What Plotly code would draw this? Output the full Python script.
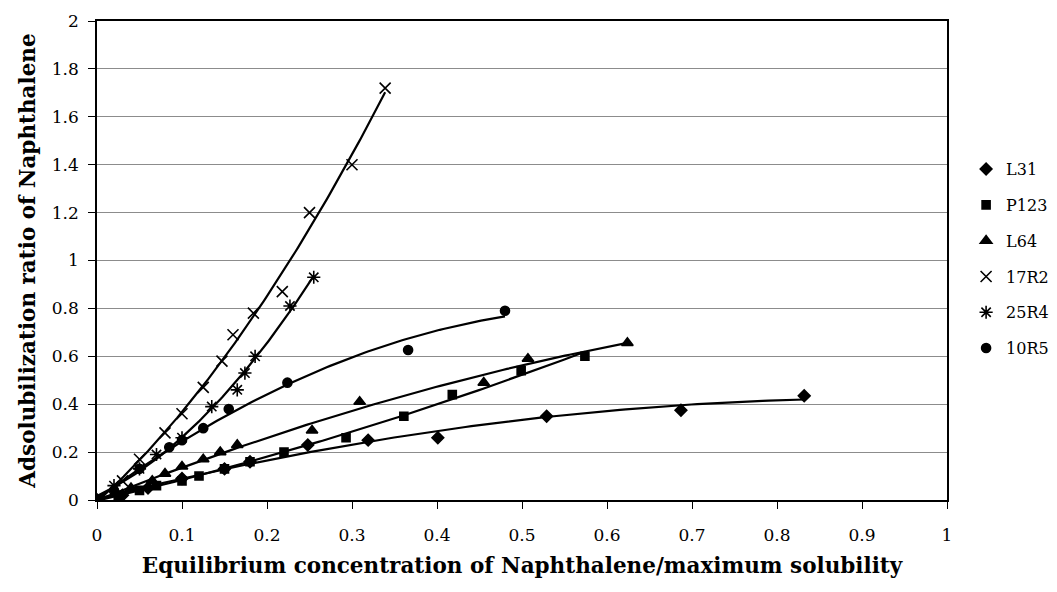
import numpy as np
import plotly.graph_objects as go

# ---- data ----
series_names = ["L31", "P123", "L64", "17R2", "25R4", "10R5"]

x_L31 = [0, 0.03, 0.06, 0.10, 0.15, 0.18, 0.248, 0.319, 0.401, 0.529, 0.687, 0.832]
y_L31 = [0, 0.02, 0.05, 0.09, 0.13, 0.16, 0.23, 0.25, 0.26, 0.35, 0.375, 0.435]

x_P123 = [0, 0.025, 0.05, 0.07, 0.10, 0.12, 0.15, 0.18, 0.22, 0.293, 0.361, 0.418, 0.499, 0.574]
y_P123 = [0, 0.02, 0.04, 0.06, 0.08, 0.10, 0.13, 0.16, 0.20, 0.26, 0.35, 0.44, 0.54, 0.60]

x_L64 = [0, 0.04, 0.065, 0.08, 0.10, 0.125, 0.145, 0.165, 0.253, 0.309, 0.455, 0.507, 0.624]
y_L64 = [0, 0.05, 0.08, 0.11, 0.14, 0.17, 0.20, 0.23, 0.29, 0.41, 0.49, 0.59, 0.656]

x_17R2 = [0, 0.03, 0.05, 0.08, 0.10, 0.125, 0.147, 0.16, 0.184, 0.218, 0.25, 0.30, 0.339]
y_17R2 = [0, 0.08, 0.17, 0.28, 0.36, 0.47, 0.58, 0.69, 0.78, 0.87, 1.20, 1.40, 1.72]

x_25R4 = [0, 0.02, 0.05, 0.07, 0.10, 0.135, 0.165, 0.174, 0.186, 0.227, 0.255]
y_25R4 = [0, 0.06, 0.13, 0.19, 0.26, 0.39, 0.46, 0.53, 0.60, 0.81, 0.93]

x_10R5 = [0, 0.02, 0.05, 0.085, 0.10, 0.125, 0.155, 0.224, 0.366, 0.48]
y_10R5 = [0, 0.04, 0.13, 0.22, 0.25, 0.30, 0.38, 0.49, 0.626, 0.79]

x_ticks = [0, 0.1, 0.2, 0.3, 0.4, 0.5, 0.6, 0.7, 0.8, 0.9, 1]
x_tick_labels = ["0", "0.1", "0.2", "0.3", "0.4", "0.5", "0.6", "0.7", "0.8", "0.9", "1"]
y_ticks = [0, 0.2, 0.4, 0.6, 0.8, 1, 1.2, 1.4, 1.6, 1.8, 2]
y_tick_labels = ["0", "0.2", "0.4", "0.6", "0.8", "1", "1.2", "1.4", "1.6", "1.8", "2"]

data = [(x_L31, y_L31), (x_P123, y_P123), (x_L64, y_L64),
        (x_17R2, y_17R2), (x_25R4, y_25R4), (x_10R5, y_10R5)]
symbols = ["diamond", "square", "triangle-up", "x-thin-open", "asterisk-open", "circle"]
sizes = [9, 8, 10, 11, 11, 9]
fit_order = [2, 2, 2, 2, 2, 2]

FONT = "DejaVu Serif, Liberation Serif, serif"

fig = go.Figure()

# trendlines (polynomial fits of each series, like spreadsheet trendlines)
for (xs, ys), order in zip(data, fit_order):
    coef = np.polyfit(xs, ys, order)
    xf = np.linspace(0, max(xs), 120)
    fig.add_trace(go.Scatter(x=xf, y=np.polyval(coef, xf), mode="lines",
                             line=dict(color="black", width=2.2),
                             showlegend=False, hoverinfo="skip"))

for name, (xs, ys), sym, sz in zip(series_names, data, symbols, sizes):
    fig.add_trace(go.Scatter(
        x=xs, y=ys, mode="markers", name=name, legendgroup=name,
        marker=dict(symbol=sym, size=sz, color="black",
                    line=dict(color="black", width=1.6))))

fig.update_layout(
    width=1057, height=592,
    margin=dict(l=97, r=110, t=21, b=92),
    paper_bgcolor="white", plot_bgcolor="white",
    font=dict(family=FONT, size=17, color="black"),
    legend=dict(xref="container", yref="container",
                x=0.914, xanchor="left", y=0.743, yanchor="top",
                font=dict(family=FONT, size=16, color="black"),
                tracegroupgap=12, itemwidth=30,
                bgcolor="rgba(0,0,0,0)"),
    showlegend=True,
)

fig.update_xaxes(
    range=[0, 1], tickvals=x_ticks, ticktext=x_tick_labels,
    ticks="outside", ticklen=7, tickcolor="black", ticklabelstandoff=12,
    showline=True, linecolor="black", linewidth=1.5, mirror=True,
    showgrid=False, zeroline=False,
    tickfont=dict(family=FONT, size=17),
    title=dict(text="<b>Equilibrium concentration of Naphthalene/maximum solubility</b>",
               font=dict(family=FONT, size=21.5), standoff=14),
)
fig.update_yaxes(
    range=[0, 2], tickvals=y_ticks, ticktext=y_tick_labels,
    ticks="outside", ticklen=7, tickcolor="black", ticklabelstandoff=6,
    showline=True, linecolor="black", linewidth=1.5, mirror=True,
    showgrid=True, gridcolor="#8c8c8c", gridwidth=1, zeroline=False,
    tickfont=dict(family=FONT, size=17),
    title=dict(text="<b>Adsolubilization ratio of Naphthalene</b>",
               font=dict(family=FONT, size=21.5), standoff=10),
)

fig.write_html("out.html")
